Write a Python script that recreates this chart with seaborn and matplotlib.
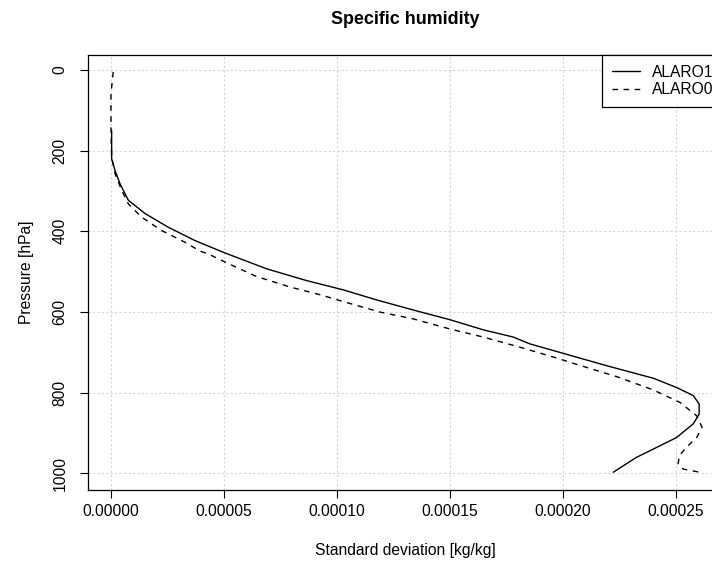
import matplotlib
matplotlib.use("Agg")
import matplotlib.pyplot as plt
import seaborn as sns
import pandas as pd
from matplotlib.lines import Line2D

# ---- data ----
alaro1_p = [150, 220, 249, 282, 323, 356, 390, 423, 452, 493, 522, 545, 570, 595,
            619, 644, 662, 679, 700, 733, 764, 787, 807, 828, 853, 877, 911, 948,
            960, 997]
alaro1_sd = [0.5e-6, 0.5e-6, 2.0e-6, 4.2e-6, 7.9e-6, 15.3e-6, 25.6e-6, 37.4e-6,
             49.9e-6, 69.1e-6, 86.7e-6, 102.9e-6, 117.7e-6, 133.9e-6, 150.1e-6,
             164.8e-6, 178.1e-6, 185.5e-6, 198.7e-6, 219.4e-6, 240.0e-6, 250.3e-6,
             257.7e-6, 260.3e-6, 260.3e-6, 257.7e-6, 250.3e-6, 237.0e-6, 232.6e-6,
             222.3e-6]

alaro0_p = [5, 59, 141, 216, 257, 299, 332, 365, 398, 427, 449, 456, 476, 512, 538,
            557, 574, 600, 617, 642, 662, 687, 714, 727, 760, 793, 824, 857, 886,
            911, 935, 956, 977, 989, 997]
alaro0_sd = [1.2e-6, 0.2e-6, 0.2e-6, 0.5e-6, 2.0e-6, 5.0e-6, 7.9e-6, 13.8e-6,
             22.6e-6, 32.9e-6, 39.6e-6, 43.2e-6, 50.6e-6, 64.6e-6, 79.4e-6, 92.6e-6,
             102.9e-6, 119.1e-6, 133.9e-6, 150.1e-6, 164.8e-6, 181.0e-6, 197.3e-6,
             204.6e-6, 223.8e-6, 240.0e-6, 251.8e-6, 259.2e-6, 261.6e-6, 259.2e-6,
             254.7e-6, 251.5e-6, 251.0e-6, 253.2e-6, 260.6e-6]

x_ticks = [0.0, 0.00005, 0.0001, 0.00015, 0.0002, 0.00025]
x_ticklabels = ["0.00000", "0.00005", "0.00010", "0.00015", "0.00020", "0.00025"]
y_ticks = [0, 200, 400, 600, 800, 1000]
y_ticklabels = ["0", "200", "400", "600", "800", "1000"]
series_names = ["ALARO1", "ALARO0"]

title = "Specific humidity"
xlabel = "Standard deviation [kg/kg]"
ylabel = "Pressure [hPa]"

# ---- style ----
sns.set_style("white")
plt.rcParams["font.family"] = ["Liberation Sans", "DejaVu Sans"]
plt.rcParams["text.color"] = "black"

W, H = 712, 561
fig = plt.figure(figsize=(W / 100, H / 100), dpi=100)
L, R, T, B = 88, 722, 55, 490
ax = fig.add_axes([L / W, 1 - B / H, (R - L) / W, (B - T) / H])

df1 = pd.DataFrame({"sd": alaro1_sd, "p": alaro1_p})
df0 = pd.DataFrame({"sd": alaro0_sd, "p": alaro0_p})

sns.lineplot(data=df1, x="sd", y="p", sort=False, estimator=None, color="black",
             linewidth=1.0, ax=ax, zorder=3)
sns.lineplot(data=df0, x="sd", y="p", sort=False, estimator=None, color="black",
             linewidth=1.0, linestyle=(0, (4, 4)), ax=ax, zorder=3)

ax.set_xlim(-9.95e-6, 0.0002704)
ax.set_ylim(1041, -37)

ax.set_xticks(x_ticks)
ax.set_xticklabels(x_ticklabels)
ax.set_yticks(y_ticks)
ax.set_yticklabels(y_ticklabels, rotation=90, va="center")

fs = 11.25
ax.tick_params(axis="both", direction="out", length=5.8, width=0.8, colors="black",
               labelcolor="black", labelsize=fs, bottom=True, left=True)
ax.tick_params(axis="x", pad=4)
ax.tick_params(axis="y", pad=9)

ax.grid(True, color="#d3d3d3", linestyle=(0, (2, 2)), linewidth=0.8)
ax.set_axisbelow(True)
for s in ax.spines.values():
    s.set_color("black")
    s.set_linewidth(0.9)

ax.set_xlabel("")
ax.set_ylabel("")
fig.text(405 / W, 1 - 550 / H, xlabel, ha="center", va="center", fontsize=fs,
         color="black")
fig.text(27 / W, 1 - 272 / H, ylabel, ha="center", va="center", rotation=90,
         fontsize=fs, color="black")
fig.text(405 / W, 1 - 19 / H, title, ha="center", va="center", fontsize=12.9,
         fontweight="bold", color="black")

handles = [Line2D([], [], color="black", linewidth=1.0),
           Line2D([], [], color="black", linewidth=1.0, linestyle=(0, (4, 4)))]
leg = ax.legend(handles, series_names, loc="upper left",
                bbox_to_anchor=(602 / W, 1 - 55 / H), bbox_transform=fig.transFigure,
                fontsize=fs, frameon=True, fancybox=False, framealpha=1,
                edgecolor="black", borderpad=0.62, handlelength=1.8,
                handletextpad=0.8, labelspacing=0.15, borderaxespad=0)
leg.get_frame().set_linewidth(0.9)
for t in leg.get_texts():
    t.set_color("black")

fig.savefig("out.png", dpi=100)
